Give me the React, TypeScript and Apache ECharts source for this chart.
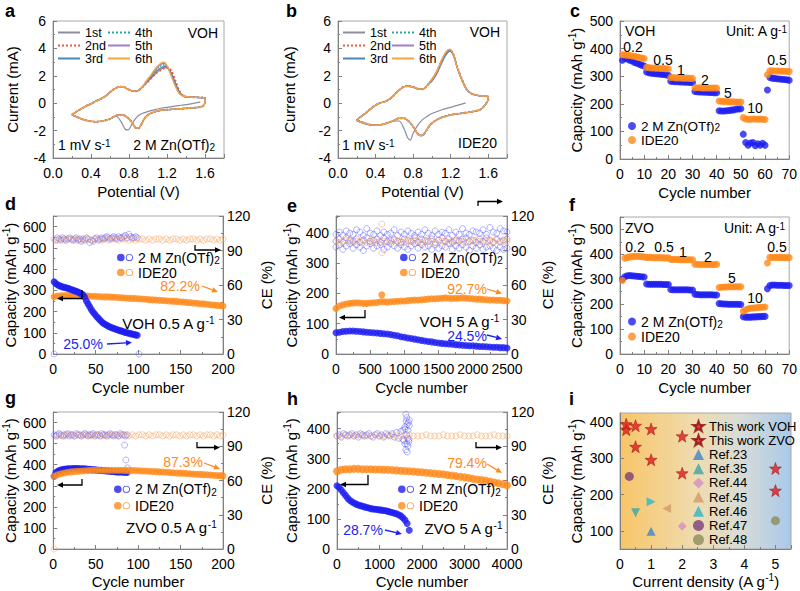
import React, { useEffect, useRef } from 'react';
import * as echarts from 'echarts';

const FONT = '"Liberation Sans", Arial, Helvetica, sans-serif';
const BLUE = '#1e1ef0';
const ORANGE = '#ff8a1c';
const BLUE_CE = 'rgba(90,90,255,0.75)';
const ORANGE_CE = 'rgba(248,160,90,0.85)';
const AX = '#808080';

// ---------- Panel a / b : CV curves ----------
const cycleNames = ['1st', '2nd', '3rd', '4th', '5th', '6th'];
const cycleColors = ['#8c8c9e', '#ef5a3c', '#4a86b8', '#22a8a0', '#a27ccc', '#f6a43f'];
const cycleTypes = ['solid', 'dotted', 'solid', 'dotted', 'solid', 'solid'];
const cycleWidths = [1.2, 2, 1.2, 1.5, 1.2, 1.3];

const cvAUpperStart = [[0.2, -0.85], [0.25, -0.6], [0.3, -0.4], [0.35, -0.2], [0.4, -0.05], [0.45, 0.15], [0.5, 0.3], [0.55, 0.5], [0.6, 0.8], [0.65, 1.05], [0.7, 1.2], [0.74, 1.2], [0.78, 1.05], [0.83, 0.9], [0.88, 0.88], [0.93, 1.1]];
const cvAPeakV = [0.98, 1.03, 1.08, 1.13, 1.17, 1.21, 1.25, 1.29, 1.33];
const cvAPeakI = [
  [1.45, 1.8, 2.15, 2.45, 2.6, 2.55, 2.15, 1.45, 0.85],
  [1.45, 1.8, 2.15, 2.4, 2.55, 2.6, 2.3, 1.6, 0.9],
  [1.52, 1.9, 2.3, 2.55, 2.7, 2.55, 2.1, 1.4, 0.8],
  [1.55, 1.95, 2.4, 2.7, 2.8, 2.55, 2.0, 1.3, 0.75],
  [1.57, 2.0, 2.45, 2.8, 2.9, 2.55, 1.95, 1.25, 0.72],
  [1.6, 2.05, 2.55, 2.9, 3.0, 2.6, 1.9, 1.2, 0.7],
];
const cvAUpperEnd = [[1.38, 0.5], [1.45, 0.45], [1.52, 0.42], [1.6, 0.38]];
const cvALower = [[1.6, 0.1], [1.58, -0.2], [1.53, -0.3], [1.45, -0.35], [1.35, -0.4], [1.25, -0.45], [1.15, -0.5], [1.07, -0.62], [1.0, -0.85], [0.96, -1.15], [0.93, -1.55], [0.9, -1.82], [0.87, -1.8], [0.84, -1.5], [0.8, -1.15], [0.75, -0.9], [0.7, -0.85], [0.65, -0.95], [0.6, -1.15], [0.52, -1.3], [0.45, -1.35], [0.38, -1.3], [0.3, -1.15], [0.25, -1.0], [0.2, -0.85]];
const cvAFirstDown = [[1.55, 0.1], [1.45, -0.05], [1.35, -0.15], [1.25, -0.25], [1.15, -0.35], [1.05, -0.5], [0.98, -0.65], [0.92, -0.8], [0.87, -1.1], [0.83, -1.55], [0.79, -1.95], [0.76, -1.9], [0.72, -1.4], [0.68, -1.0], [0.65, -0.95], [0.6, -1.15], [0.52, -1.3], [0.45, -1.35], [0.38, -1.3], [0.3, -1.15], [0.25, -1.0]];

const cvBUpperStart = [[0.2, -1.25], [0.25, -0.95], [0.3, -0.7], [0.35, -0.4], [0.4, -0.15], [0.45, 0.02], [0.5, 0.12], [0.55, 0.3], [0.6, 0.6], [0.65, 0.95], [0.7, 1.2], [0.75, 1.25], [0.8, 1.18], [0.85, 1.05], [0.9, 1.02], [0.95, 1.3]];
const cvBPeakV = [1.0, 1.05, 1.1, 1.15, 1.19, 1.23, 1.27, 1.32, 1.37];
const cvBPeakI = [
  [1.6, 2.1, 2.85, 3.5, 3.8, 3.5, 2.6, 1.7, 1.0],
  [1.7, 2.25, 3.0, 3.7, 3.9, 3.55, 2.65, 1.75, 1.02],
  [1.72, 2.25, 3.0, 3.6, 3.8, 3.5, 2.6, 1.7, 1.0],
  [1.73, 2.28, 3.05, 3.65, 3.85, 3.52, 2.6, 1.7, 1.0],
  [1.74, 2.3, 3.08, 3.7, 3.9, 3.55, 2.62, 1.7, 1.0],
  [1.75, 2.3, 3.1, 3.75, 3.95, 3.55, 2.6, 1.7, 1.0],
];
const cvBUpperEnd = [[1.42, 0.7], [1.5, 0.55], [1.6, 0.48]];
const cvBLower = [[1.6, 0.3], [1.57, -0.1], [1.53, -0.4], [1.48, -0.55], [1.4, -0.65], [1.3, -0.75], [1.2, -0.85], [1.1, -1.05], [1.03, -1.3], [0.98, -1.6], [0.94, -2.0], [0.9, -2.35], [0.87, -2.35], [0.84, -2.15], [0.8, -1.7], [0.75, -1.3], [0.7, -1.1], [0.65, -1.1], [0.6, -1.25], [0.5, -1.5], [0.42, -1.6], [0.35, -1.58], [0.28, -1.45], [0.2, -1.25]];
const cvBFirstDown = [[1.36, 0.02], [1.3, -0.1], [1.2, -0.3], [1.1, -0.5], [1.0, -0.75], [0.95, -0.95], [0.9, -1.2], [0.85, -1.6], [0.8, -2.2], [0.77, -2.7], [0.74, -2.5], [0.7, -1.8], [0.65, -1.3], [0.6, -1.3], [0.5, -1.5], [0.42, -1.6], [0.35, -1.6], [0.28, -1.5]];

// ---------- Panel c / f : rate ----------
const cBlue = [358, 365, 362, 358, 355, 350, 347, 343, 340, 337, 315, 313, 311, 310, 309, 308, 307, 306, 305, 303, 282, 281, 280, 280, 279, 279, 278, 278, 277, 277, 245, 244, 243, 243, 242, 242, 241, 241, 240, 240, 175, 174, 174, 175, 176, 177, 178, 180, 181, 182, 90, 60, 50, 58, 60, 48, 55, 50, 57, 50, 250, 295, 293, 292, 291, 290, 289, 288, 287, 285];
const cOrange = [378, 377, 376, 375, 373, 372, 370, 368, 366, 364, 332, 331, 330, 330, 329, 329, 328, 328, 327, 327, 295, 295, 294, 294, 294, 293, 293, 293, 292, 292, 258, 258, 258, 257, 257, 257, 257, 257, 257, 257, 210, 209, 208, 208, 207, 207, 207, 206, 206, 206, 150, 145, 144, 144, 145, 145, 144, 145, 144, 143, 305, 320, 320, 319, 319, 319, 318, 318, 318, 317];
const fBlue = [300, 310, 314, 315, 314, 313, 312, 311, 310, 309, 281, 280, 280, 280, 280, 280, 280, 279, 279, 279, 259, 258, 258, 258, 258, 258, 258, 258, 257, 257, 240, 239, 238, 238, 238, 238, 238, 238, 237, 237, 203, 202, 201, 201, 200, 200, 200, 200, 200, 199, 150, 148, 148, 148, 149, 149, 150, 150, 151, 151, 262, 275, 277, 277, 276, 276, 276, 275, 275, 275];
const fOrange = [295, 385, 388, 390, 391, 392, 392, 392, 391, 390, 388, 388, 388, 387, 387, 387, 387, 386, 386, 386, 380, 380, 380, 380, 379, 379, 379, 379, 378, 378, 360, 360, 359, 359, 359, 359, 359, 359, 359, 360, 267, 268, 269, 269, 270, 270, 270, 270, 270, 270, 172, 178, 182, 184, 185, 186, 187, 188, 188, 189, 365, 388, 388, 388, 388, 388, 388, 387, 387, 387];
const rateLabelsC = ['0.2', '0.5', '1', '2', '5', '10', '0.5'];

// ---------- Panel d : VOH 0.5 A/g ----------
const dBlueCyc = [1, 3, 5, 7, 9, 11, 13, 15, 17, 19, 21, 23, 25, 27, 29, 31, 33, 35, 37, 39, 41, 43, 45, 47, 49, 51, 53, 55, 57, 59, 61, 63, 65, 67, 69, 71, 73, 75, 77, 79, 81, 83, 85, 87, 89, 91, 93, 95, 97, 99];
const dBlueCap = [340, 332, 326, 322, 319, 316, 314, 312, 310, 307, 304, 301, 298, 295, 292, 288, 284, 279, 267, 250, 236, 222, 208, 197, 187, 177, 169, 160, 152, 145, 140, 135, 131, 127, 124, 121, 118, 115, 112, 110, 107, 105, 102, 100, 98, 96, 94, 92, 90, 88];
const dBlueCE = [0, 99, 101, 100, 99, 101, 100, 99, 100, 101, 100, 99, 100, 101, 99, 100, 98, 100, 99, 101, 100, 97, 99, 98, 100, 101, 99, 100, 101, 100, 101, 102, 101, 100, 101, 102, 101, 100, 102, 101, 101, 102, 103, 101, 104, 102, 101, 101, 102, 101];
const dBlueCEEnd = [[101, 0]];
const longCyc = [1, 5, 9, 13, 17, 21, 25, 29, 33, 37, 41, 45, 49, 53, 57, 61, 65, 69, 73, 77, 81, 85, 89, 93, 97, 101, 105, 109, 113, 117, 121, 125, 129, 133, 137, 141, 145, 149, 153, 157, 161, 165, 169, 173, 177, 181, 185, 189, 193, 197, 200];
const dOrangeCap = [270, 273, 274, 275, 275, 275, 275, 275, 274, 274, 273, 272, 272, 271, 270, 269, 269, 268, 267, 266, 265, 264, 263, 262, 261, 260, 259, 258, 256, 255, 254, 253, 252, 251, 250, 249, 248, 246, 245, 243, 242, 240, 239, 237, 236, 234, 232, 231, 229, 228, 226];
const dOrangeCE = [100, 99, 100, 99, 100, 100, 99, 100, 99, 100, 100, 99, 100, 100, 99, 100, 99, 100, 100, 99, 100, 100, 99, 100, 99, 100, 100, 99, 100, 99, 100, 100, 99, 100, 99, 100, 100, 99, 100, 99, 100, 100, 99, 100, 99, 100, 100, 99, 100, 99, 100];

// ---------- Panel e : VOH 5 A/g ----------
const eCyc = [0, 50, 100, 150, 200, 250, 300, 350, 400, 450, 500, 550, 600, 650, 700, 750, 800, 850, 900, 950, 1000, 1050, 1100, 1150, 1200, 1250, 1300, 1350, 1400, 1450, 1500, 1550, 1600, 1650, 1700, 1750, 1800, 1850, 1900, 1950, 2000, 2050, 2100, 2150, 2200, 2250, 2300, 2350, 2400, 2450, 2500];
const eBlueCap = [70, 72, 74, 75, 76, 76, 75, 74, 73, 72, 71, 70, 69, 68, 67, 66, 64, 62, 60, 57, 55, 53, 51, 49, 47, 45, 43, 41, 40, 38, 36, 35, 34, 33, 32, 31, 30, 29, 28, 27, 27, 26, 25, 25, 24, 23, 22, 22, 21, 21, 20];
const eOrangeCap = [150, 158, 162, 165, 167, 168, 169, 168, 167, 167, 168, 169, 170, 172, 172, 171, 172, 173, 174, 175, 175, 176, 177, 178, 178, 179, 180, 181, 182, 182, 183, 184, 185, 184, 183, 184, 184, 185, 184, 183, 182, 181, 181, 180, 179, 178, 178, 177, 177, 176, 175];
const eOrangeSpike = [[670, 195]];
const eCeBlueHi = [104, 106, 103, 107, 105, 104, 108, 106, 103, 109, 105, 104, 107, 103, 106, 104, 105, 108, 103, 106, 104, 107, 105, 103, 106, 104, 108, 105, 103, 107, 104, 106, 105, 108, 103, 106, 104, 109, 105, 104, 107, 106, 105, 108, 104, 110, 106, 105, 109, 107, 106];
const eCeBlueMid = [98, 100, 97, 101, 99, 98, 100, 97, 99, 101, 98, 99, 100, 97, 101, 98, 99, 100, 98, 97, 100, 99, 98, 101, 97, 100, 99, 98, 100, 97, 99, 101, 98, 100, 97, 99, 98, 100, 101, 98, 99, 97, 100, 98, 101, 99, 97, 100, 98, 99, 100];
const eCeBlueLo = [93, 95, 91, 94, 96, 92, 95, 93, 90, 94, 96, 92, 94, 95, 91, 93, 96, 94, 92, 95, 93, 91, 94, 96, 92, 95, 93, 94, 91, 95, 92, 94, 93, 96, 91, 94, 92, 95, 93, 90, 94, 92, 95, 91, 93, 94, 92, 90, 93, 91, 92];
const eCeOrange = [98, 97, 98, 99, 98, 97, 98, 98, 99, 97, 98, 98, 97, 98, 98, 97, 98, 99, 98, 98, 97, 98, 98, 99, 98, 97, 98, 98, 98, 97, 99, 98, 98, 97, 98, 98, 99, 98, 97, 98, 98, 99, 98, 97, 98, 98, 98, 99, 97, 98, 98];
const eCeOrangeOut = [[670, 113], [670, 88]];

// ---------- Panel g : ZVO 0.5 A/g ----------
const gBlueCyc = [1, 3, 5, 7, 9, 11, 13, 15, 17, 19, 21, 23, 25, 27, 29, 31, 33, 35, 37, 39, 41, 43, 45, 47, 49, 51, 53, 55, 57, 59, 61, 63, 65, 67, 69, 71, 73, 75, 77, 79, 81, 83, 85, 87];
const gBlueCap = [345, 362, 368, 372, 375, 377, 378, 379, 380, 381, 381, 382, 382, 382, 382, 381, 381, 380, 380, 379, 378, 378, 377, 376, 376, 375, 374, 373, 373, 372, 371, 370, 370, 369, 368, 368, 367, 366, 366, 365, 365, 364, 364, 363];
const gBlueCE = [100, 99, 100, 101, 100, 99, 100, 100, 101, 99, 100, 100, 99, 101, 100, 100, 99, 100, 101, 100, 99, 100, 100, 101, 99, 100, 100, 99, 101, 100, 100, 99, 100, 101, 100, 99, 100, 100, 99, 101, 100, 100, 99, 100];
const gBlueCEOut = [[84, 91], [85.5, 78], [87.5, 71]];
const gOrangeCap = [345, 352, 357, 361, 364, 366, 368, 369, 370, 371, 372, 373, 373, 374, 374, 374, 374, 374, 374, 374, 374, 373, 373, 372, 372, 371, 370, 370, 369, 368, 367, 366, 365, 364, 363, 362, 361, 360, 359, 358, 357, 356, 355, 354, 353, 352, 351, 350, 349, 348, 347];
const gOrangeCE = [0, 99, 100, 99, 100, 100, 99, 100, 99, 100, 100, 99, 100, 100, 99, 100, 99, 100, 100, 99, 100, 100, 99, 100, 99, 100, 100, 99, 100, 99, 100, 100, 99, 100, 99, 100, 100, 99, 100, 99, 100, 100, 99, 100, 99, 100, 100, 99, 100, 99, 100];

// ---------- Panel h : ZVO 5 A/g ----------
const hBlueCyc = [0, 50, 100, 150, 200, 250, 300, 350, 400, 450, 500, 550, 600, 650, 700, 750, 800, 850, 900, 950, 1000, 1050, 1100, 1150, 1200, 1250, 1300, 1350, 1400, 1450, 1500, 1550, 1600, 1650, 1700];
const hBlueCap = [210, 205, 196, 187, 178, 169, 162, 157, 153, 149, 146, 144, 142, 140, 138, 136, 134, 133, 132, 131, 130, 129, 128, 127, 125, 123, 121, 119, 117, 114, 110, 104, 96, 85, 62];
const hBlueCE = [99, 100, 98, 101, 100, 99, 100, 101, 99, 100, 98, 101, 100, 99, 100, 101, 99, 98, 100, 101, 99, 100, 98, 101, 100, 99, 101, 98, 102, 97, 103, 96, 105, 92, 108];
const hBlueCEOutCyc = [1550, 1580, 1600, 1620, 1630, 1640, 1650, 1660, 1670, 1680, 1690, 1700, 1600, 1620, 1650, 1670, 1690, 1640, 1660];
const hBlueCEOutVal = [104, 95, 107, 118, 112, 115, 109, 121, 104, 111, 96, 113, 92, 87, 85, 90, 94, 100, 97];
const hOrangeCyc = [0, 100, 200, 300, 400, 500, 600, 700, 800, 900, 1000, 1100, 1200, 1300, 1400, 1500, 1600, 1700, 1800, 1900, 2000, 2100, 2200, 2300, 2400, 2500, 2600, 2700, 2800, 2900, 3000, 3100, 3200, 3300, 3400, 3500, 3600, 3700, 3800, 3900, 4000];
const hOrangeCap = [258, 263, 265, 265, 266, 266, 265, 265, 265, 264, 264, 263, 263, 262, 261, 260, 259, 258, 257, 256, 255, 253, 252, 251, 249, 248, 246, 244, 242, 240, 238, 236, 233, 231, 229, 227, 224, 221, 218, 215, 212];
const hOrangeCE = [99, 99, 100, 99, 99, 100, 99, 99, 99, 100, 99, 99, 99, 100, 99, 99, 99, 100, 99, 99, 99, 100, 99, 99, 99, 100, 99, 99, 99, 100, 99, 99, 99, 100, 99, 99, 99, 100, 99, 99, 99];

// ---------- Panel i : comparison ----------
const iNames = ['This work VOH', 'This work ZVO', 'Ref.23', 'Ref.35', 'Ref.44', 'Ref.45', 'Ref.46', 'Ref.47', 'Ref.48'];
const iPoints = [
  [[0.2, 379], [0.5, 332], [1, 296], [2, 259], [5, 211]],
  [[0.2, 394], [0.5, 390], [1, 381], [2, 361], [5, 272]],
  [[1, 99]],
  [[0.5, 150]],
  [[2, 113]],
  [[1.5, 162]],
  [[1, 180]],
  [[0.3, 250]],
  [[5, 128]],
];
const STAR = 'path://M50,2 L61.8,35.6 L97.6,36.2 L69.1,57.8 L79.4,92 L50,71.7 L20.6,92 L30.9,57.8 L2.4,36.2 L38.2,35.6 Z';
const iSymbols = [STAR, STAR, 'triangle', 'triangle', 'diamond', 'triangle', 'triangle', 'circle', 'circle'];
const iRotate = [0, 0, 0, 180, 0, 90, -90, 0, 0];
const iColors = ['#e3191c', '#e3191c', '#3f84c8', '#38a6a6', '#d58fc0', '#d39a66', '#2fb4c8', '#7b3f7e', '#8d8c5e'];
const iSizes = [12, 12, 9, 9, 9, 9, 9, 9, 9];

const zip = (xs: number[], ys: number[]) => xs.map((x, i) => [x, ys[i]]);

function txt(x: number, y: number, text: string, o: any = {}) {
  const c = o.color || '#000';
  return {
    type: 'text', x, y, silent: true, z: 100,
    style: {
      text, fill: c, fontSize: o.size || 14, fontFamily: FONT, fontWeight: o.weight || 'normal',
      align: o.align || 'left', verticalAlign: 'middle',
      rich: {
        sup: { fontSize: 10, verticalAlign: 'top', lineHeight: 9, fill: c, fontFamily: FONT },
        sub: { fontSize: 10, verticalAlign: 'bottom', lineHeight: 5, fill: c, fontFamily: FONT },
      },
    },
  };
}

function arrow(pts: number[][], color = '#000') {
  const n = pts.length;
  const [x1, y1] = pts[n - 2];
  const [x2, y2] = pts[n - 1];
  const a = Math.atan2(y2 - y1, x2 - x1);
  const L = 6, W = 2.8;
  const bx = x2 - L * Math.cos(a), by = y2 - L * Math.sin(a);
  const head = [[x2, y2], [bx + W * Math.sin(a), by - W * Math.cos(a)], [bx - W * Math.sin(a), by + W * Math.cos(a)]];
  return [
    { type: 'polyline', silent: true, z: 100, shape: { points: [...pts.slice(0, n - 1), [bx, by]] }, style: { stroke: color, lineWidth: 1.3, fill: null } },
    { type: 'polygon', silent: true, z: 100, shape: { points: head }, style: { fill: color } },
  ];
}

const NAME_STYLE = {
  fontSize: 15, color: '#000', fontFamily: FONT, lineHeight: 18,
  rich: { sup: { fontSize: 10, verticalAlign: 'top', lineHeight: 9, color: '#000', fontFamily: FONT } },
};

const plain = (v: number) => `${v}`;

function axis(kind: 'x' | 'y', gridIndex: number, min: number, max: number, interval: number | null, name: string, nameGap: number, o: any = {}) {
  const ax: any = {
    type: 'value', gridIndex, min, max,
    name, nameLocation: 'middle', nameGap, nameTextStyle: NAME_STYLE,
    axisLine: { show: true, onZero: false, lineStyle: { color: AX, width: 1 } },
    axisTick: { show: true, inside: true, length: 4, lineStyle: { color: AX } },
    minorTick: { show: o.minor !== false, splitNumber: 2, length: 2, lineStyle: { color: AX } },
    splitLine: { show: false },
    axisLabel: { fontSize: 14, color: '#000', fontFamily: FONT, margin: o.margin ?? (kind === 'x' ? 8 : 7), showMaxLabel: !o.hideMax, formatter: o.fmt || plain },
  };
  if (interval != null) ax.interval = interval;
  if (kind === 'y') { ax.position = o.position || 'left'; ax.nameRotate = 90; }
  if (o.custom) { ax.axisLabel.customValues = o.custom; ax.axisTick.customValues = o.custom; }
  return ax;
}

const CAP = 'Capacity (mAh g{sup|-1})';
const f1 = (v: number) => v.toFixed(1);

const LEG_RICH = {
  s: { fontSize: 10, lineHeight: 4, verticalAlign: 'bottom', color: '#000', fontFamily: FONT },
};
const ZN = '2 M Zn(OTf)2';
// filled circle + ring, used as legend icon for capacity + CE pairs
const DUO = 'path://M0.2,4a3.8,3.8 0 1,0 7.6,0a3.8,3.8 0 1,0 -7.6,0z M8.9,4a3.6,3.6 0 1,0 7.2,0a3.6,3.6 0 1,0 -7.2,0z M9.8,4a2.7,2.7 0 1,1 5.4,0a2.7,2.7 0 1,1 -5.4,0z';

function capLegend(left: number, top: number, lh: number, hollow: boolean, size = 14) {
  return {
    left, top, orient: 'vertical', padding: 0, itemGap: 0, itemWidth: hollow ? 16 : 8, itemHeight: 8, selectedMode: false,
    icon: hollow ? DUO : 'circle', data: [ZN, 'IDE20'],
    textStyle: { fontSize: size, color: '#000', fontFamily: FONT, lineHeight: lh, rich: LEG_RICH },
    formatter: (n: string) => (n === 'IDE20' ? 'IDE20' : '2 M Zn(OTf){s|2}'),
  };
}
function cvLegend(left: number, names: string[]) {
  return {
    left, top: 26, orient: 'vertical', padding: 0, itemGap: 0, itemWidth: 22, itemHeight: 8, selectedMode: false,
    itemStyle: { opacity: 0 },
    data: names, textStyle: { fontSize: 12.5, color: '#000', fontFamily: FONT, lineHeight: 12 },
  };
}

function scat(name: string, xi: number, yi: number, data: any[], color: string, size = 7, z = 3) {
  return { type: 'scatter', name, xAxisIndex: xi, yAxisIndex: yi, data, symbol: 'circle', symbolSize: size, itemStyle: { color }, z, silent: true };
}
function ce(name: string, xi: number, yi: number, data: any[], color: string, z = 2) {
  return { type: 'scatter', name, xAxisIndex: xi, yAxisIndex: yi, data, symbol: 'circle', symbolSize: 6, itemStyle: { color: 'rgba(0,0,0,0)', borderColor: color, borderWidth: 0.8 }, z, silent: true };
}

function buildOption() {
  const gridBase = { show: true, borderColor: '#a8a8a8', borderWidth: 1, containLabel: false };
  const grid = [
    { left: 53, top: 21, width: 171, height: 137 },
    { left: 338, top: 21, width: 169, height: 137 },
    { left: 620, top: 21, width: 170, height: 138 },
    { left: 53, top: 216, width: 170, height: 138 },
    { left: 336, top: 216, width: 171, height: 138 },
    { left: 620, top: 217, width: 170, height: 137 },
    { left: 53, top: 412, width: 170, height: 138 },
    { left: 337, top: 412, width: 170, height: 138 },
    {
      left: 620, top: 413, width: 171, height: 138,
      backgroundColor: new echarts.graphic.LinearGradient(0, 0, 1, 0, [
        { offset: 0, color: '#f8c568' }, { offset: 0.45, color: '#efdcb0' }, { offset: 0.7, color: '#d9dcd6' }, { offset: 1, color: '#a9c9ea' },
      ]),
    },
  ].map((g) => ({ ...gridBase, ...g }));

  const xAxis = [
    axis('x', 0, 0, 1.8, 0.4, 'Potential (V)', 24, { hideMax: true, fmt: f1 }),
    axis('x', 1, 0, 1.8, 0.4, 'Potential (V)', 24, { hideMax: true, fmt: f1 }),
    axis('x', 2, 0, 70, 10, 'Cycle number', 24),
    axis('x', 3, 0, 200, 50, 'Cycle number', 24),
    axis('x', 4, 0, 2500, 500, 'Cycle number', 24),
    axis('x', 5, 0, 70, 10, 'Cycle number', 24),
    axis('x', 6, 0, 200, 50, 'Cycle number', 23),
    axis('x', 7, 0, 4000, 1000, 'Cycle number', 23),
    axis('x', 8, 0, 5.5, 1, 'Current density (A g{sup|-1})', 23, { hideMax: true }),
  ];
  const yAxis = [
    axis('y', 0, -4, 6, 2, 'Current (mA)', 32),
    axis('y', 1, -4, 6, 2, 'Current (mA)', 40),
    axis('y', 2, 0, 500, 100, CAP, 35),
    axis('y', 3, 0, 650, 100, CAP, 32, { hideMax: true }),
    axis('y', 3, 0, 120, 30, 'CE (%)', 34, { position: 'right', margin: 4 }),
    axis('y', 4, 0, 455, 100, CAP, 36, { hideMax: true }),
    axis('y', 4, 0, 120, 30, 'CE (%)', 31, { position: 'right', margin: 4 }),
    axis('y', 5, 0, 550, 100, CAP, 35, { hideMax: true }),
    axis('y', 6, 0, 650, 100, CAP, 32, { hideMax: true }),
    axis('y', 6, 0, 120, 30, 'CE (%)', 34, { position: 'right', margin: 4 }),
    axis('y', 7, 0, 455, 100, CAP, 37, { hideMax: true }),
    axis('y', 7, 0, 120, 30, 'CE (%)', 31, { position: 'right', margin: 4 }),
    axis('y', 8, 50, 425, null, CAP, 35, { custom: [100, 200, 300, 400], minor: false }),
  ];

  const series: any[] = [];
  const cvA = cycleNames.map((_, k) => {
    const peak = cvAPeakV.map((v, i) => [v, cvAPeakI[k][i]]);
    return k === 0 ? [...cvAFirstDown, ...cvAUpperStart, ...peak, ...cvAUpperEnd] : [...cvAUpperStart, ...peak, ...cvAUpperEnd, ...cvALower];
  });
  const cvB = cycleNames.map((_, k) => {
    const peak = cvBPeakV.map((v, i) => [v, cvBPeakI[k][i]]);
    return k === 0 ? [...cvBFirstDown, ...cvBUpperStart, ...peak, ...cvBUpperEnd] : [...cvBUpperStart, ...peak, ...cvBUpperEnd, ...cvBLower];
  });
  [cvA, cvB].forEach((set, p) => {
    set.forEach((data, k) => {
      series.push({
        type: 'line', name: cycleNames[k], xAxisIndex: p, yAxisIndex: p, data, smooth: 0.3, symbol: 'none', silent: true, z: 2 + k,
        lineStyle: { color: cycleColors[k], width: cycleWidths[k], type: cycleTypes[k] }, itemStyle: { color: cycleColors[k] },
      });
    });
  });
  // c
  series.push(scat(ZN, 2, 2, cBlue.map((v, i) => [i + 1, v]), BLUE));
  series.push(scat('IDE20', 2, 2, cOrange.map((v, i) => [i + 1, v]), ORANGE, 7, 4));
  // d
  series.push(ce('d-ce-b', 3, 4, [...zip(dBlueCyc, dBlueCE), ...dBlueCEEnd], BLUE_CE));
  series.push(ce('d-ce-o', 3, 4, zip(longCyc, dOrangeCE), ORANGE_CE));
  series.push(scat('IDE20', 3, 3, zip(longCyc, dOrangeCap), ORANGE, 7, 3));
  series.push(scat(ZN, 3, 3, zip(dBlueCyc, dBlueCap), BLUE, 7, 4));
  // e
  series.push(ce('e-ce-b1', 4, 6, zip(eCyc, eCeBlueHi), BLUE_CE));
  series.push(ce('e-ce-b2', 4, 6, zip(eCyc, eCeBlueMid), BLUE_CE));
  series.push(ce('e-ce-b3', 4, 6, zip(eCyc, eCeBlueLo), BLUE_CE));
  series.push(ce('e-ce-o', 4, 6, [...zip(eCyc, eCeOrange), ...eCeOrangeOut], ORANGE_CE, 3));
  series.push(scat(ZN, 4, 5, zip(eCyc, eBlueCap), BLUE));
  series.push(scat('IDE20', 4, 5, [...zip(eCyc, eOrangeCap), ...eOrangeSpike], ORANGE));
  // f
  series.push(scat(ZN, 5, 7, fBlue.map((v, i) => [i + 1, v]), BLUE));
  series.push(scat('IDE20', 5, 7, fOrange.map((v, i) => [i + 1, v]), ORANGE, 7, 4));
  // g
  series.push(ce('g-ce-b', 6, 9, [...zip(gBlueCyc, gBlueCE), ...gBlueCEOut], BLUE_CE));
  series.push(ce('g-ce-o', 6, 9, zip(longCyc, gOrangeCE), ORANGE_CE));
  series.push(scat(ZN, 6, 8, zip(gBlueCyc, gBlueCap), BLUE, 7, 3));
  series.push(scat('IDE20', 6, 8, zip(longCyc, gOrangeCap), ORANGE, 7, 4));
  // h
  series.push(ce('h-ce-b', 7, 11, [...zip(hBlueCyc, hBlueCE), ...zip(hBlueCEOutCyc, hBlueCEOutVal)], BLUE_CE));
  series.push(ce('h-ce-o', 7, 11, zip(hOrangeCyc, hOrangeCE), ORANGE_CE, 3));
  series.push(scat(ZN, 7, 10, zip(hBlueCyc, hBlueCap), BLUE));
  series.push(scat('IDE20', 7, 10, zip(hOrangeCyc, hOrangeCap), ORANGE, 8));
  // i
  iNames.forEach((n, k) => {
    series.push({
      type: 'scatter', name: n, xAxisIndex: 8, yAxisIndex: 12, data: iPoints[k], symbol: iSymbols[k], symbolRotate: iRotate[k],
      symbolSize: iSizes[k], silent: true, z: 5,
      itemStyle: { color: iColors[k], borderColor: k < 2 ? '#8b1010' : iColors[k], borderWidth: k < 2 ? 0.6 : 0 },
    });
  });

  const legend = [
    cvLegend(57, ['1st', '2nd', '3rd']),
    cvLegend(107, ['4th', '5th', '6th']),
    cvLegend(342, ['1st', '2nd', '3rd']),
    cvLegend(391, ['4th', '5th', '6th']),
    capLegend(628, 119, 13.5, false, 13.5),
    capLegend(117, 250, 15, true),
    capLegend(400, 250, 15, true),
    capLegend(628, 314, 15, false),
    capLegend(114, 481, 16.5, true),
    capLegend(398, 481, 16.5, true),
    {
      left: 692, top: 419, orient: 'vertical', padding: 0, itemGap: 0, itemWidth: 11, itemHeight: 11, selectedMode: false,
      data: iNames, textStyle: { fontSize: 13, color: '#000', fontFamily: FONT, lineHeight: 14.2 },
    },
  ];

  const letters = [['a', 5, 11], ['b', 286, 11], ['c', 570, 11], ['d', 5, 204], ['e', 287, 206], ['f', 569, 205], ['g', 5, 398], ['h', 287, 399], ['i', 569, 399]];
  const rateC = [[633, 47], [663, 60], [681, 70], [705, 80], [728, 93], [755, 108], [777, 60]];
  const rateF = [[635, 247], [664, 247], [683, 252], [708, 257], [732, 278], [755, 298], [777, 247]];
  const elements: any[] = [
    ...letters.map(([t, x, y]) => txt(x as number, y as number, t as string, { size: 18, weight: 'bold' })),
    txt(218, 33, 'VOH', { align: 'right' }),
    txt(58, 145, '1 mV s{sup|-1}'),
    txt(215, 145, '2 M Zn(OTf){sub|2}', { align: 'right' }),
    txt(500, 32, 'VOH', { align: 'right' }),
    txt(342, 145, '1 mV s{sup|-1}'),
    txt(497, 143, 'IDE20', { align: 'right' }),
    txt(625, 31, 'VOH'),
    txt(787, 31, 'Unit: A g{sup|-1}', { align: 'right' }),
    ...rateLabelsC.map((t, i) => txt(rateC[i][0], rateC[i][1], t, { align: 'center' })),
    txt(625, 228, 'ZVO'),
    txt(785, 228, 'Unit: A g{sup|-1}', { align: 'right' }),
    ...rateLabelsC.map((t, i) => txt(rateF[i][0], rateF[i][1], t, { align: 'center' })),
    // d
    txt(180, 286, '82.2%', { color: ORANGE, align: 'center' }),
    txt(83, 344, '25.0%', { color: BLUE, align: 'center' }),
    txt(168, 323, 'VOH 0.5 A g{sup|-1}', { align: 'center', size: 15 }),
    ...arrow([[82, 290], [82, 298.5], [57, 298.5]]),
    ...arrow([[195, 245], [195, 250], [221, 250]]),
    ...arrow([[202, 286], [218, 292]], ORANGE),
    ...arrow([[107, 344], [132, 342.5]], BLUE),
    // e
    txt(467, 289, '92.7%', { color: ORANGE, align: 'center' }),
    txt(467, 336, '24.5%', { color: BLUE, align: 'center' }),
    txt(459, 321, 'VOH 5 A g{sup|-1}', { align: 'center', size: 15 }),
    ...arrow([[365, 310], [365, 317.5], [339, 317.5]]),
    ...arrow([[478, 206], [478, 201.5], [503, 201.5]]),
    ...arrow([[487, 289], [502, 293.5]], ORANGE),
    ...arrow([[487, 335], [502, 339]], BLUE),
    // g
    txt(183, 462, '87.3%', { color: ORANGE, align: 'center' }),
    txt(171, 527, 'ZVO 0.5 A g{sup|-1}', { align: 'center', size: 15 }),
    ...arrow([[82, 479], [82, 485], [57, 485]]),
    ...arrow([[197, 442], [197, 447.5], [220, 447.5]]),
    ...arrow([[204, 463], [220, 469]], ORANGE),
    // h
    txt(467, 463, '79.4%', { color: ORANGE, align: 'center' }),
    txt(363, 530, '28.7%', { color: BLUE, align: 'center' }),
    txt(463, 528, 'ZVO 5 A g{sup|-1}', { align: 'center', size: 15 }),
    ...arrow([[368, 475], [368, 484.5], [340, 484.5]]),
    ...arrow([[476, 442], [476, 447.5], [502, 447.5]]),
    ...arrow([[487, 464], [502, 473]], ORANGE),
    ...arrow([[385, 530], [402, 534]], BLUE),
  ];

  return {
    animation: false,
    backgroundColor: '#ffffff',
    textStyle: { fontFamily: FONT },
    grid, xAxis, yAxis, legend, series,
    graphic: { elements },
  };
}

export default function App() {
  const ref = useRef<HTMLDivElement>(null);
  useEffect(() => {
    if (!ref.current) return;
    const chart = echarts.init(ref.current, undefined, { renderer: 'svg' });
    chart.setOption(buildOption() as any);
    return () => chart.dispose();
  }, []);
  return <div ref={ref} style={{ position: 'absolute', left: 0, top: 0, width: 800, height: 591 }} />;
}
